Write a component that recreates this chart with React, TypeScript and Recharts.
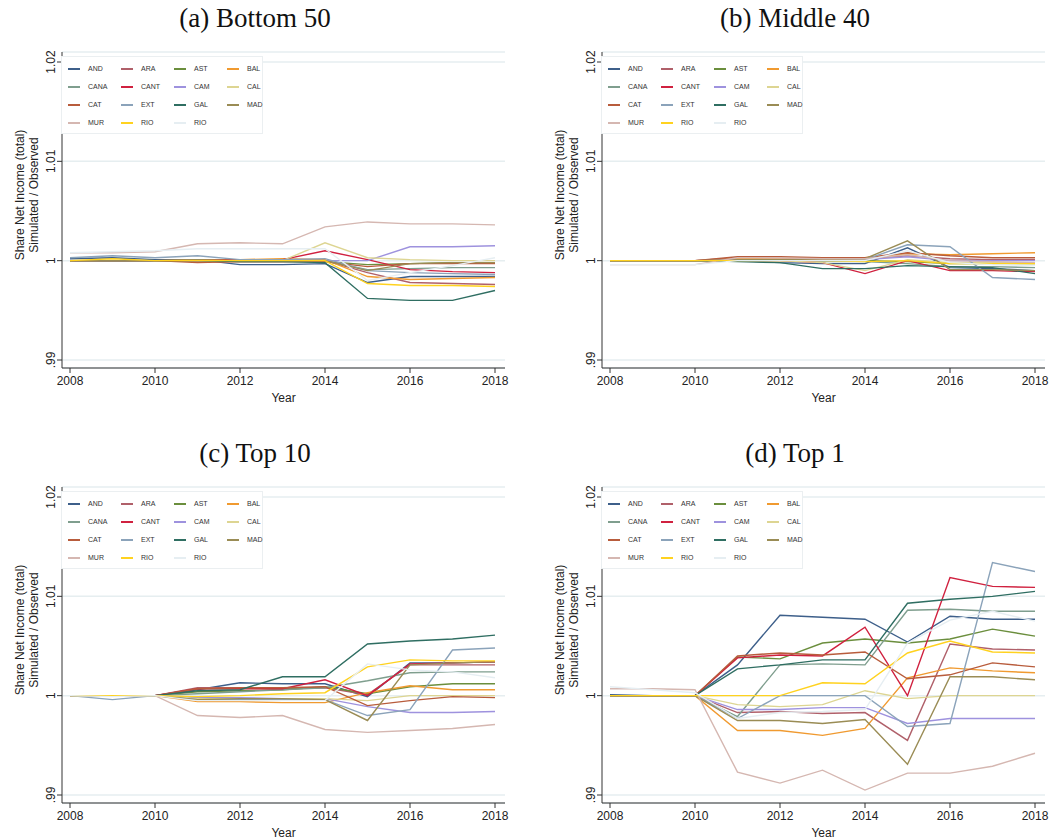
import React from 'react'
import { LineChart, Line, XAxis, YAxis, CartesianGrid } from 'recharts'

const YEARS = [2008, 2009, 2010, 2011, 2012, 2013, 2014, 2015, 2016, 2017, 2018]
const X_TICKS = [2008, 2010, 2012, 2014, 2016, 2018]
const Y_TICKS = [0.99, 1, 1.01, 1.02]

// legend order, 4 per row
const SERIES = [
  { key: 'AND', name: 'AND', color: '#3D5F8A' },
  { key: 'ARA', name: 'ARA', color: '#B0606A' },
  { key: 'AST', name: 'AST', color: '#6B8E3D' },
  { key: 'BAL', name: 'BAL', color: '#F09A30' },
  { key: 'CANA', name: 'CANA', color: '#7F9E8E' },
  { key: 'CANT', name: 'CANT', color: '#D0213F' },
  { key: 'CAM', name: 'CAM', color: '#9E92DE' },
  { key: 'CAL', name: 'CAL', color: '#DDD592' },
  { key: 'CAT', name: 'CAT', color: '#B85C3C' },
  { key: 'EXT', name: 'EXT', color: '#8BA3BA' },
  { key: 'GAL', name: 'GAL', color: '#2F6E62' },
  { key: 'MAD', name: 'MAD', color: '#9A8C55' },
  { key: 'MUR', name: 'MUR', color: '#D5B7B1' },
  { key: 'RIO', name: 'RIO', color: '#FFD21F' },
  { key: 'RIO2', name: 'RIO', color: '#E6EEF2' },
]

type PanelValues = Record<string, number[]>

const BOTTOM_50: PanelValues = {
  AND: [1.0002, 1.0003, 1.0001, 1.0001, 0.9996, 0.9996, 0.9997, 0.9978, 0.9984, 0.9984, 0.9984],
  ARA: [1, 1, 1, 0.9999, 0.9999, 0.9999, 1, 0.9988, 0.9978, 0.9977, 0.9976],
  AST: [1, 1, 1, 1, 0.9999, 0.9999, 0.9999, 0.9996, 0.9997, 0.9998, 0.9998],
  BAL: [1, 1, 1, 1.0001, 1.0001, 1.0002, 1.0001, 0.9984, 0.9981, 0.9982, 0.9983],
  CANA: [1, 1, 1, 1, 1, 1, 1, 0.9991, 0.9992, 0.9993, 0.9993],
  CANT: [1, 1, 1, 1, 1.0001, 1.0001, 1.001, 1.0001, 0.9991, 0.9989, 0.9988],
  CAM: [1, 1, 1, 1, 1, 1, 1, 1, 1.0014, 1.0014, 1.0015],
  CAL: [1, 1, 1, 1, 1, 1, 1.0018, 1.0003, 1.0001, 1, 1],
  CAT: [1, 1, 1, 0.9998, 0.9999, 0.9999, 0.9999, 0.9994, 0.9997, 0.9997, 0.9997],
  EXT: [1.0003, 1.0005, 1.0003, 1.0005, 1.0001, 1.0001, 1.0002, 0.999, 0.9988, 0.9987, 0.9986],
  GAL: [1, 1, 1, 1, 0.9999, 0.9999, 0.9998, 0.9962, 0.996, 0.996, 0.997],
  MAD: [1, 1, 1, 1.0001, 1, 1, 1, 0.999, 0.9997, 0.9998, 0.9998],
  MUR: [1.0008, 1.0008, 1.0009, 1.0017, 1.0018, 1.0017, 1.0034, 1.0039, 1.0037, 1.0037, 1.0036],
  RIO: [1, 1.0002, 1, 1, 1, 1, 1, 0.9977, 0.9975, 0.9975, 0.9974],
  RIO2: [1.0008, 1.0009, 1.001, 1.0012, 1.0012, 1.0012, 1.0012, 0.998, 0.9988, 0.9995, 1.0003],
}

const MIDDLE_40: PanelValues = {
  AND: [1, 1, 1, 1, 0.9998, 0.9997, 0.9997, 1.0013, 0.9993, 0.9992, 0.999],
  ARA: [1, 1, 1, 1.0003, 1.0003, 1.0002, 1.0002, 1.0005, 1.0002, 1.0001, 1.0001],
  AST: [1, 1, 1, 1, 1.0001, 1, 1, 0.9999, 0.9997, 0.9997, 0.9997],
  BAL: [1, 1, 1, 1.0002, 1.0003, 1.0003, 1.0003, 1.0007, 1.0006, 1.0007, 1.0008],
  CANA: [1, 1, 1, 1, 1, 0.9999, 0.9999, 0.9997, 0.9994, 0.9994, 0.9993],
  CANT: [1, 1, 1, 1, 1, 0.9998, 0.9987, 1, 0.999, 0.999, 0.9989],
  CAM: [1, 1, 1, 1.0001, 1.0001, 1.0001, 1.0001, 1.0004, 1, 1, 1],
  CAL: [1, 1, 1, 1, 1, 0.9998, 0.999, 1.0001, 0.9998, 0.9998, 0.9998],
  CAT: [1, 1, 1, 1.0004, 1.0004, 1.0003, 1.0003, 1.0008, 1.0005, 1.0003, 1.0003],
  EXT: [1, 1, 1, 1, 1.0001, 1.0001, 1.0001, 1.0016, 1.0014, 0.9983, 0.9981],
  GAL: [1, 1, 1, 0.9999, 0.9998, 0.9992, 0.9992, 0.9995, 0.9994, 0.9993, 0.9987],
  MAD: [1, 1, 1, 1.0001, 1.0001, 1.0001, 1.0002, 1.002, 0.9991, 0.9991, 0.999],
  MUR: [0.9996, 0.9996, 0.9996, 1.0003, 1.0003, 1.0002, 1.0002, 1.0006, 1, 0.9999, 0.9998],
  RIO: [1, 1, 1, 1, 1, 1, 0.9999, 1, 0.9997, 0.9997, 0.9997],
  RIO2: [0.9996, 0.9996, 0.9996, 1, 1, 1, 1, 1.001, 0.9998, 0.9996, 0.9995],
}

const TOP_10: PanelValues = {
  AND: [1, 1, 1, 1.0006, 1.0013, 1.0012, 1.0012, 0.9999, 1.0033, 1.0033, 1.0034],
  ARA: [1, 1, 1, 1.0008, 1.0008, 1.0007, 1.0008, 1.0001, 1.0031, 1.0031, 1.0031],
  AST: [1, 1, 1, 1.0004, 1.0005, 1.0006, 1.0009, 1.0002, 1.0009, 1.0012, 1.0012],
  BAL: [1, 1, 1, 0.9994, 0.9994, 0.9993, 0.9993, 1.0003, 1.001, 1.0006, 1.0006],
  CANA: [1, 1, 1, 1.0002, 1.0004, 1.0006, 1.0008, 1.0015, 1.0023, 1.0024, 1.0024],
  CANT: [1, 1, 1, 1.0007, 1.0007, 1.0007, 1.0016, 1, 1.0032, 1.0033, 1.0034],
  CAM: [1, 1, 1, 0.9998, 0.9998, 0.9997, 0.9997, 0.9989, 0.9983, 0.9983, 0.9984],
  CAL: [1, 1, 1, 0.9997, 0.9997, 0.9997, 0.9997, 0.9995, 1, 1, 1],
  CAT: [1, 1, 1, 1.0007, 1.0008, 1.0008, 1.0009, 0.999, 0.9995, 0.9999, 0.9998],
  EXT: [1, 0.9996, 1, 0.9996, 0.9996, 0.9996, 0.9996, 0.998, 0.9986, 1.0046, 1.0048],
  GAL: [1, 1, 1, 1.0005, 1.0006, 1.0019, 1.0019, 1.0052, 1.0055, 1.0057, 1.0061],
  MAD: [1, 1, 1, 0.9996, 0.9997, 0.9997, 0.9996, 0.9975, 1.0031, 1.0033, 1.0034],
  MUR: [1, 1, 1, 0.998, 0.9978, 0.998, 0.9966, 0.9963, 0.9965, 0.9967, 0.9971],
  RIO: [1, 1, 1, 0.9999, 1, 1.0002, 1.0003, 1.0029, 1.0036, 1.0035, 1.0035],
  RIO2: [1, 0.9999, 1, 0.9995, 0.9995, 0.9995, 0.9995, 1.0032, 1.0026, 1.0024, 1.0018],
}

const TOP_1: PanelValues = {
  AND: [1.0001, 1, 1, 1.0031, 1.0081, 1.0079, 1.0077, 1.0054, 1.008, 1.0077, 1.0077],
  ARA: [1, 1, 1, 0.9983, 0.9984, 0.9982, 0.9983, 0.9955, 1.0052, 1.0047, 1.0046],
  AST: [1, 1, 1, 1.0039, 1.0037, 1.0053, 1.0057, 1.0053, 1.0057, 1.0067, 1.006],
  BAL: [1, 1, 1, 0.9965, 0.9965, 0.996, 0.9967, 1.0018, 1.0028, 1.0025, 1.0023],
  CANA: [1, 1, 1, 0.9979, 1.0031, 1.0032, 1.0031, 1.0086, 1.0087, 1.0085, 1.0085],
  CANT: [1, 1, 1, 1.0038, 1.0041, 1.004, 1.0069, 1, 1.0119, 1.011, 1.0109],
  CAM: [1, 1, 1, 0.9986, 0.9986, 0.9988, 0.9988, 0.9972, 0.9977, 0.9977, 0.9977],
  CAL: [1, 1, 1, 0.9991, 0.9989, 0.9991, 1.0005, 0.9997, 1, 1, 1],
  CAT: [1, 1, 1, 1.004, 1.0043, 1.0041, 1.0044, 1.0017, 1.0021, 1.0033, 1.0029],
  EXT: [1, 1, 1, 0.9977, 1, 1, 1, 0.9969, 0.9972, 1.0134, 1.0125],
  GAL: [1, 1, 1, 1.0027, 1.0031, 1.0036, 1.0036, 1.0093, 1.0097, 1.01, 1.0105],
  MAD: [1, 1, 1, 0.9975, 0.9975, 0.9972, 0.9976, 0.9931, 1.0019, 1.0019, 1.0016],
  MUR: [1.0007, 1.0007, 1.0006, 0.9923, 0.9912, 0.9925, 0.9905, 0.9922, 0.9922, 0.9929, 0.9942],
  RIO: [1, 1, 1, 1, 1, 1.0013, 1.0012, 1.0043, 1.0055, 1.0044, 1.0043],
  RIO2: [1.0009, 1.0006, 1.0003, 0.9977, 0.9983, 0.9984, 0.9986, 1.0053, 1.0076, 1.0085, 1.0075],
}

const PANELS = [
  { title: '(a) Bottom 50', values: BOTTOM_50, left: 0, top: 0 },
  { title: '(b) Middle 40', values: MIDDLE_40, left: 540, top: 0 },
  { title: '(c) Top 10', values: TOP_10, left: 0, top: 435 },
  { title: '(d) Top 1', values: TOP_1, left: 540, top: 435 },
]

const SANS = '"Liberation Sans", Arial, sans-serif'
const AXIS_COLOR = '#333'
const TEXT_COLOR = '#222'

function formatRatio(v: number) {
  if (v === 1) return '1'
  return v.toFixed(2).replace(/^0/, '')
}

function RatioTick({ x, y, payload }: any) {
  return (
    <text
      x={x}
      y={y}
      transform={`rotate(-90, ${x}, ${y})`}
      textAnchor="middle"
      fontSize={12}
      fontFamily={SANS}
      fill={TEXT_COLOR}
    >
      {formatRatio(payload.value)}
    </text>
  )
}

function RegionLegend() {
  return (
    <div
      style={{
        position: 'absolute', left: 61, top: 56, width: 202, height: 78,
        border: '1px solid #EBEFF1', background: '#fff', boxSizing: 'border-box',
      }}
    >
      {SERIES.map((s, i) => (
        <div
          key={s.key}
          style={{
            position: 'absolute', left: 6 + (i % 4) * 53, top: 7.5 + Math.floor(i / 4) * 18.2,
            height: 8, display: 'flex', alignItems: 'center',
          }}
        >
          <span style={{ display: 'inline-block', width: 12, height: 2, background: s.color }} />
          <span style={{ marginLeft: 8, fontSize: 7, fontFamily: SANS, color: '#333', lineHeight: '8px' }}>
            {s.name}
          </span>
        </div>
      ))}
    </div>
  )
}

function RatioPanel({ title, values, left, top }: { title: string, values: PanelValues, left: number, top: number }) {
  const rows = YEARS.map((year, i) => {
    const row: Record<string, number> = { year }
    SERIES.forEach(s => { row[s.key] = values[s.key][i] })
    return row
  })

  return (
    <div style={{ position: 'absolute', left, top, width: 512, height: 420 }}>
      <div
        style={{
          position: 'absolute', left: 0, top: 2, width: 510, textAlign: 'center',
          fontFamily: '"Liberation Serif", "Times New Roman", serif', fontSize: 27, lineHeight: '32px', color: '#111',
        }}
      >
        {title}
      </div>
      <LineChart width={512} height={420} data={rows} margin={{ top: 52, right: 7, bottom: 16, left: 12 }}>
        <CartesianGrid horizontal vertical={false} stroke="#E6EEF0" strokeWidth={1.5} />
        <XAxis
          type="number"
          dataKey="year"
          domain={[2008, 2018]}
          ticks={X_TICKS}
          padding={{ left: 8, right: 10 }}
          height={36}
          stroke={AXIS_COLOR}
          tickSize={5}
          tickMargin={3}
          tick={{ fontSize: 12, fontFamily: SANS, fill: TEXT_COLOR }}
          label={{ value: 'Year', position: 'insideBottom', offset: 2, fontSize: 12, fontFamily: SANS, fill: TEXT_COLOR }}
        />
        <YAxis
          type="number"
          domain={[0.99, 1.02]}
          ticks={Y_TICKS}
          padding={{ top: 10, bottom: 8 }}
          width={50}
          stroke={AXIS_COLOR}
          tickSize={5}
          tickMargin={2}
          tick={RatioTick}
        />
        {SERIES.map(s => (
          <Line
            key={s.key}
            type="linear"
            dataKey={s.key}
            name={s.name}
            stroke={s.color}
            strokeWidth={1.4}
            dot={false}
            isAnimationActive={false}
          />
        ))}
      </LineChart>
      <RegionLegend />
      <div
        style={{
          position: 'absolute', left: 27, top: 195, transform: 'translate(-50%, -50%) rotate(-90deg)',
          whiteSpace: 'nowrap', textAlign: 'center', fontFamily: SANS, fontSize: 12, lineHeight: '14px', color: TEXT_COLOR,
        }}
      >
        Share Net Income (total)<br />Simulated / Observed
      </div>
    </div>
  )
}

export default function App() {
  return (
    <div style={{ position: 'absolute', left: 0, top: 0, width: 1051, height: 840, background: '#fff', overflow: 'hidden' }}>
      {PANELS.map(p => (
        <RatioPanel key={p.title} title={p.title} values={p.values} left={p.left} top={p.top} />
      ))}
    </div>
  )
}
